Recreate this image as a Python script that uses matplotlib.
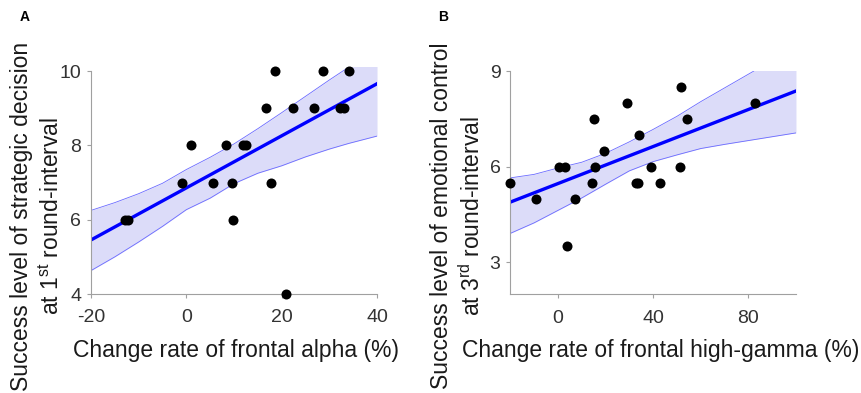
import numpy as np
import matplotlib.pyplot as plt

plt.rcParams['font.family'] = ['Liberation Sans', 'DejaVu Sans']
plt.rcParams['mathtext.fontset'] = 'custom'
plt.rcParams['mathtext.rm'] = 'Liberation Sans'
plt.rcParams['axes.unicode_minus'] = False

# Panel A: frontal alpha vs strategic decision (1st round-interval)
alpha_x = [-12.9, -12.3, -1.0, 0.9, 5.6, 8.4, 9.5, 9.8, 11.9, 12.5, 16.8, 17.7,
           18.6, 20.9, 22.4, 26.8, 28.7, 32.2, 33.0, 34.2]
alpha_y = [6, 6, 7, 8, 7, 8, 7, 6, 8, 8, 9, 7, 10, 4, 9, 9, 10, 9, 9, 10]
# confidence band
alpha_band_x = [-20, -15, -10, -5, 0, 5, 10, 15, 20, 25, 30, 34, 40]
alpha_band_hi = [6.25, 6.46, 6.70, 6.98, 7.35, 7.68, 8.04, 8.45, 8.88, 9.32, 9.76, 10.1, 10.6]
alpha_band_lo = [4.63, 5.00, 5.40, 5.82, 6.27, 6.58, 6.97, 7.25, 7.45, 7.69, 7.90, 8.05, 8.25]

# Panel B: frontal high-gamma vs emotional control (3rd round-interval)
gamma_x = [-20.0, -9.2, 0.3, 3.1, 3.9, 7.3, 14.4, 15.0, 15.7, 19.2, 29.2, 32.9,
           33.8, 34.1, 39.2, 42.8, 51.3, 51.9, 54.3, 82.9]
gamma_y = [5.5, 5, 6, 6, 3.5, 5, 5.5, 7.5, 6, 6.5, 8, 5.5, 5.5, 7, 6, 5.5, 6,
           8.5, 7.5, 8]
gamma_band_x = [-20, -10, 0, 10, 20, 30, 40, 50, 60, 70, 80, 90, 100]
gamma_band_hi = [5.65, 5.76, 5.96, 6.14, 6.42, 6.78, 7.17, 7.58, 8.04, 8.47, 8.90, 9.33, 9.75]
gamma_band_lo = [3.91, 4.24, 4.63, 5.02, 5.45, 5.87, 6.16, 6.37, 6.57, 6.70, 6.82, 6.94, 7.06]


def draw(ax, x, y, bx, blo, bhi, xlim, ylim, spine_top, xticks, yticks):
    b, a = np.polyfit(x, y, 1)  # least-squares fit line
    xs = np.array(xlim, float)
    ax.fill_between(bx, blo, bhi, color='#dcdcf9', lw=0)
    ax.plot(bx, blo, color='#6a6aff', lw=0.6)
    ax.plot(bx, bhi, color='#6a6aff', lw=0.6)
    ax.plot(xs, a + b * xs, color='#0000ff', lw=2.4)
    ax.scatter(x, y, s=52, color='black', zorder=5, clip_on=False, lw=0)
    ax.set_xlim(xlim)
    ax.set_ylim(ylim)
    for sp in ['top', 'right']:
        ax.spines[sp].set_visible(False)
    for sp in ['left', 'bottom']:
        ax.spines[sp].set_color('#a0a0a0')
        ax.spines[sp].set_linewidth(0.8)
    ax.spines['left'].set_bounds(ylim[0], spine_top)
    ax.set_xticks(xticks)
    ax.set_yticks(yticks)
    ax.tick_params(colors='#a0a0a0', labelcolor='#333333', labelsize=14,
                   length=3, width=0.8)
    ax.tick_params(axis='x', pad=8)
    ax.tick_params(axis='y', pad=4)


fig = plt.figure(figsize=(8.62, 3.93), dpi=100)
axA = fig.add_axes([0.1056, 0.2519, 0.3318, 0.5768])
axB = fig.add_axes([0.592, 0.2511, 0.3314, 0.5682])

draw(axA, alpha_x, alpha_y, alpha_band_x, alpha_band_lo, alpha_band_hi,
     (-20, 40), (4, 10.1), 10, [-20, 0, 20, 40], [4, 6, 8, 10])
draw(axB, gamma_x, gamma_y, gamma_band_x, gamma_band_lo, gamma_band_hi,
     (-20, 100), (2, 9), 9, [0, 40, 80], [3, 6, 9])

lab = dict(fontsize=16.5, color='#1a1a1a', ha='center', va='center')
H = 393.0
W = 862.0
fig.text(236 / W, 1 - 350 / H, 'Change rate of frontal alpha (%)', **lab)
fig.text(22 / W, 1 - 216 / H, 'Success level of strategic decision', rotation=90, **lab)
fig.text(52 / W, 1 - 216 / H, r'at 1$^{\mathrm{st}}$ round-interval', rotation=90, **lab)

fig.text(661 / W, 1 - 350 / H, 'Change rate of frontal high-gamma (%)', **lab)
fig.text(442 / W, 1 - 216 / H, 'Success level of emotional control', rotation=90, **lab)
fig.text(472 / W, 1 - 216 / H, r'at 3$^{\mathrm{rd}}$ round-interval', rotation=90, **lab)

fig.text(25 / W, 1 - 17 / H, 'A', fontsize=10, fontweight='bold', ha='center', va='center')
fig.text(443 / W, 1 - 17 / H, 'B', fontsize=10, fontweight='bold', ha='center', va='center')

fig.savefig('out.png', dpi=100)
